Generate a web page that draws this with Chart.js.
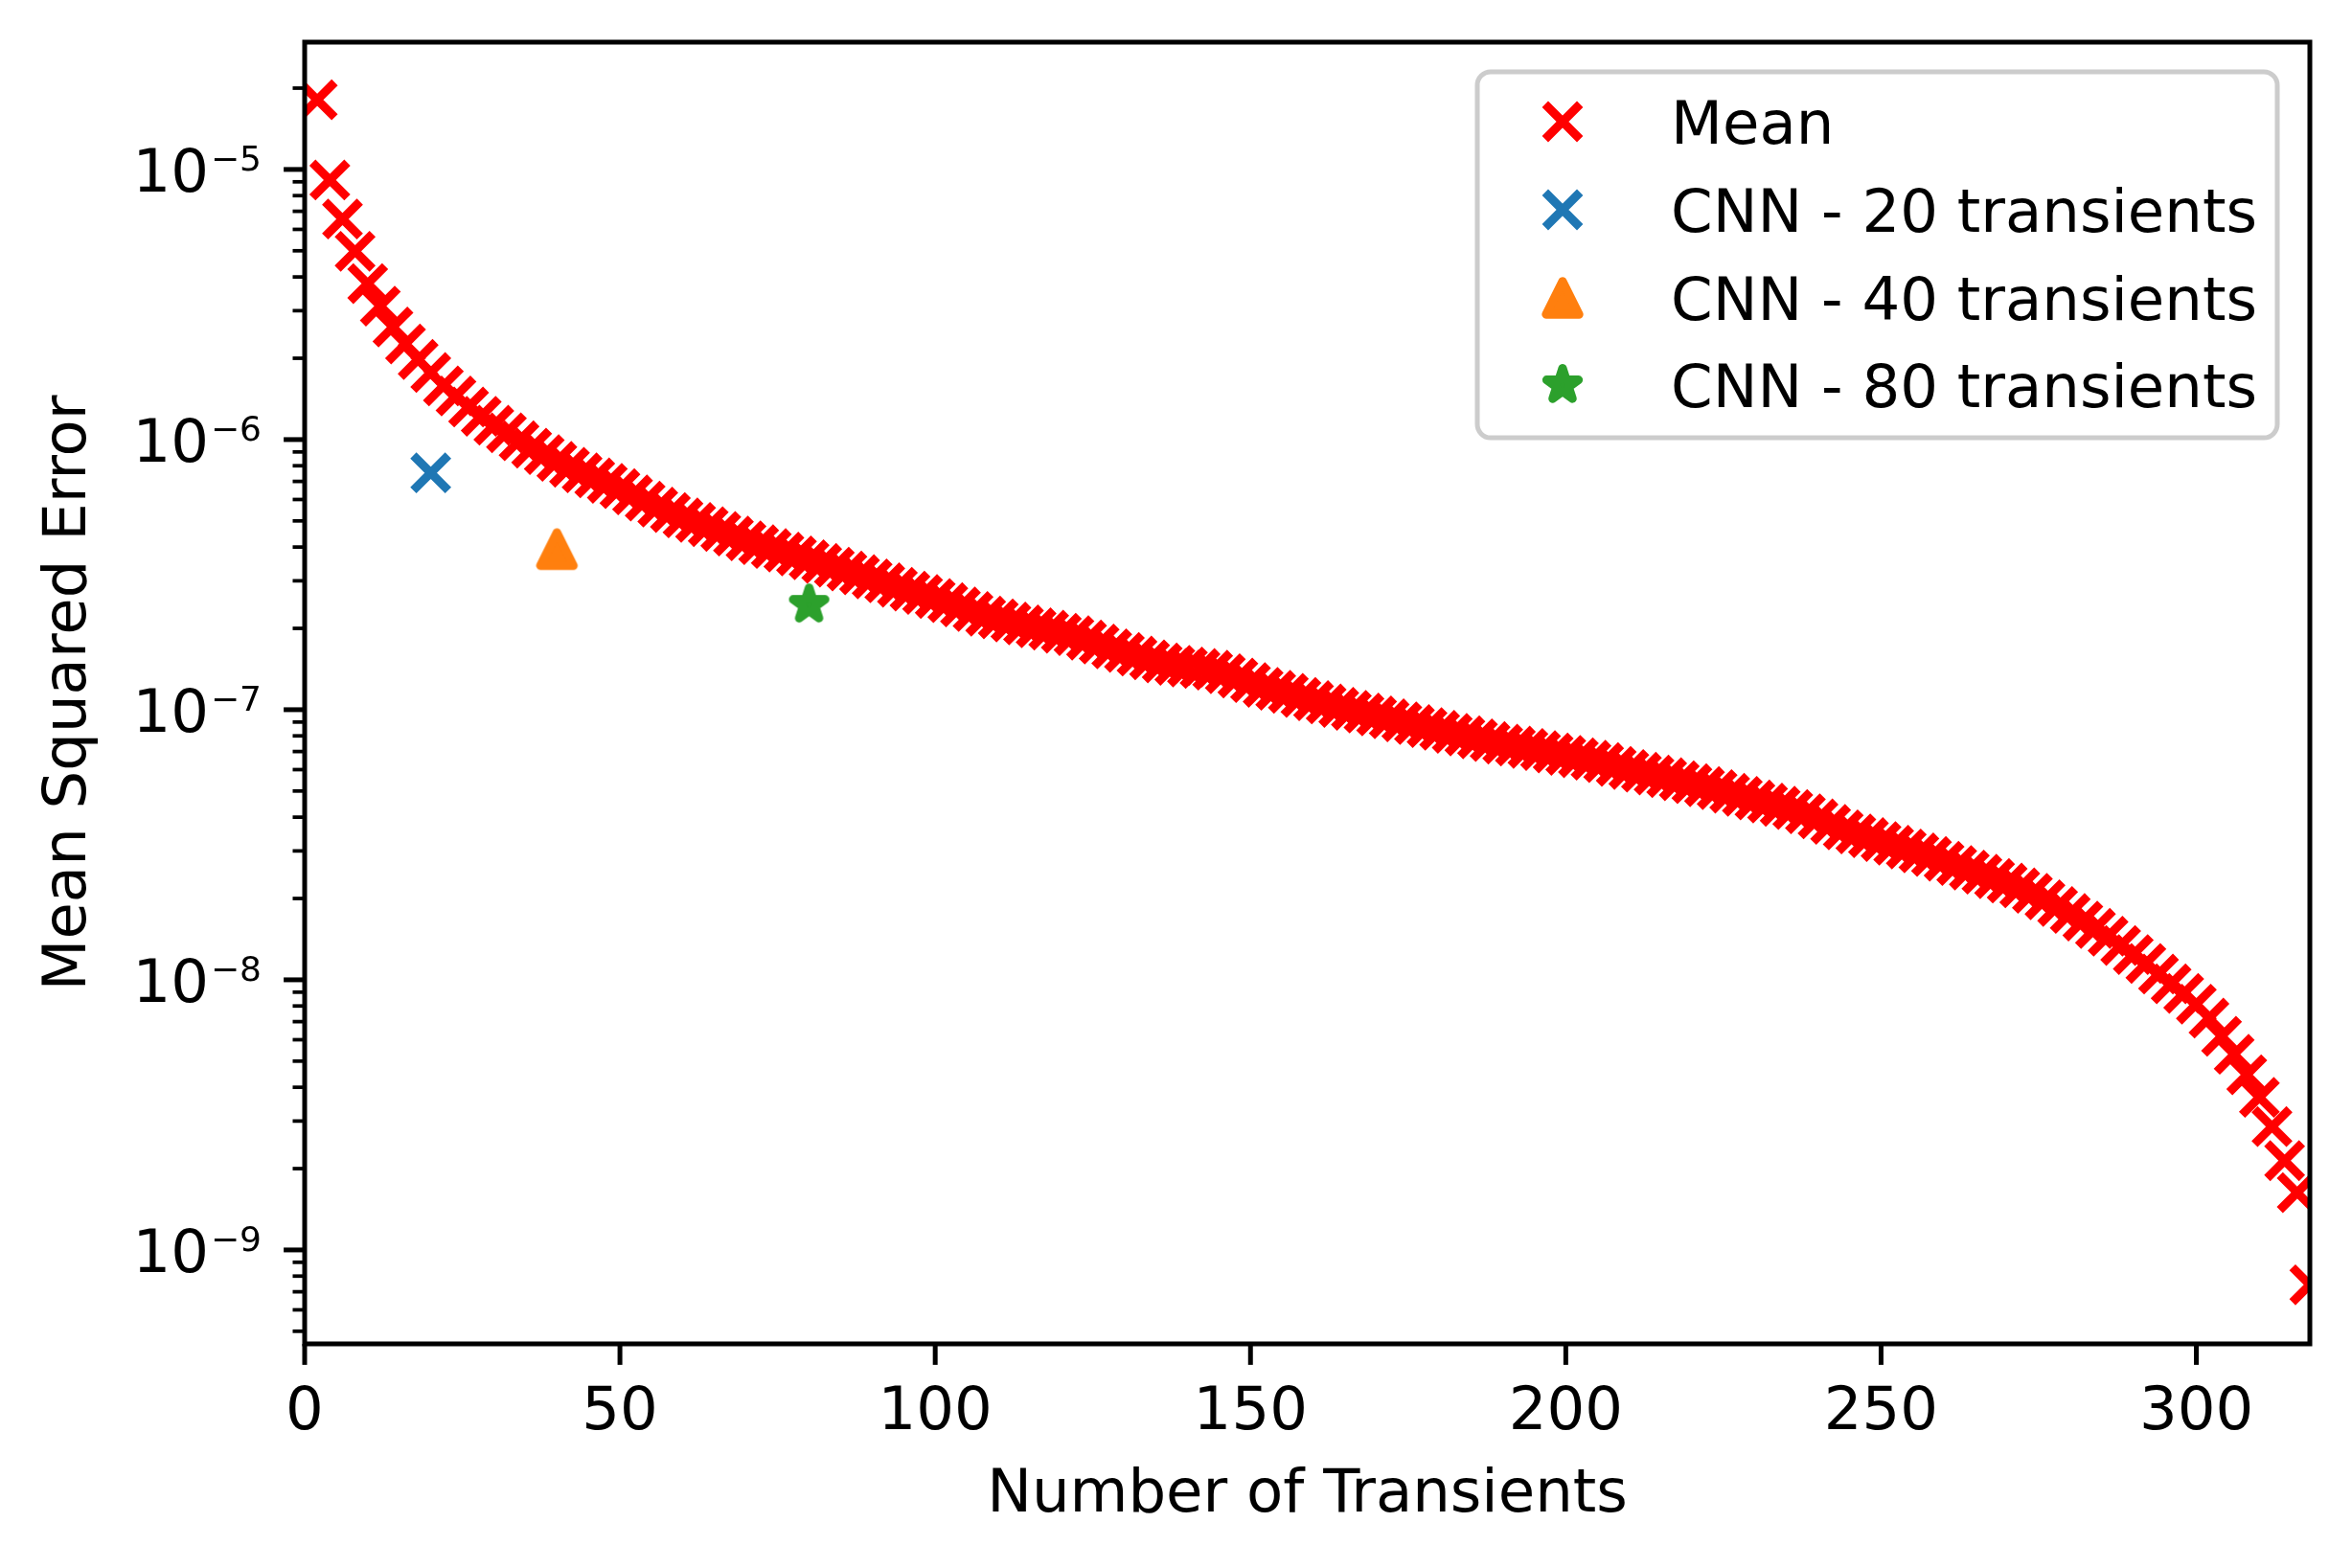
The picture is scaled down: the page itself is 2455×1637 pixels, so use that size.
<!DOCTYPE html>
<html><head><meta charset="utf-8">
<script src="https://cdn.jsdelivr.net/npm/chart.js@4.4.1/dist/chart.umd.min.js"></script>
<style>html,body{margin:0;padding:0;background:#fff;}canvas{display:block;}</style>
</head><body>
<canvas id="c" width="2455" height="1637"></canvas>
<script>
// ---- data ----
const seriesLabels = ['Mean', 'CNN - 20 transients', 'CNN - 40 transients', 'CNN - 80 transients'];
const xMean = [2,4,6,8,10,12,14,16,18,20,22,24,26,28,30,32,34,36,38,40,42,44,46,48,50,52,54,56,58,60,
62,64,66,68,70,72,74,76,78,80,82,84,86,88,90,92,94,96,98,100,102,104,106,108,110,112,114,116,118,120,
122,124,126,128,130,132,134,136,138,140,142,144,146,148,150,152,154,156,158,160,162,164,166,168,170,172,174,176,178,180,
182,184,186,188,190,192,194,196,198,200,202,204,206,208,210,212,214,216,218,220,222,224,226,228,230,232,234,236,238,240,
242,244,246,248,250,252,254,256,258,260,262,264,266,268,270,272,274,276,278,280,282,284,286,288,290,292,294,296,298,300,
302,304,306,308,310,312,314,316,318];
const yMean = [1.81e-5,9.14e-6,6.55e-6,4.98e-6,3.78e-6,3.12e-6,2.61e-6,2.26e-6,1.98e-6,1.77e-6,
1.58e-6,1.45e-6,1.32e-6,1.22e-6,1.13e-6,1.06e-6,9.9e-7,9.3e-7,8.8e-7,8.3e-7,
7.9e-7,7.53e-7,7.21e-7,6.89e-7,6.58e-7,6.24e-7,5.92e-7,5.62e-7,5.37e-7,5.13e-7,
4.94e-7,4.76e-7,4.57e-7,4.39e-7,4.22e-7,4.08e-7,3.95e-7,3.83e-7,3.71e-7,3.59e-7,
3.48e-7,3.37e-7,3.26e-7,3.16e-7,3.05e-7,2.95e-7,2.84e-7,2.75e-7,2.67e-7,2.58e-7,
2.49e-7,2.40e-7,2.31e-7,2.22e-7,2.17e-7,2.11e-7,2.06e-7,2.01e-7,1.97e-7,1.92e-7,
1.88e-7,1.81e-7,1.75e-7,1.68e-7,1.63e-7,1.58e-7,1.53e-7,1.49e-7,1.46e-7,1.44e-7,
1.42e-7,1.40e-7,1.36e-7,1.31e-7,1.26e-7,1.21e-7,1.18e-7,1.15e-7,1.11e-7,1.08e-7,
1.05e-7,1.02e-7,9.95e-8,9.72e-8,9.48e-8,9.25e-8,9.02e-8,8.81e-8,8.59e-8,8.39e-8,
8.18e-8,8.00e-8,7.80e-8,7.62e-8,7.46e-8,7.33e-8,7.19e-8,7.06e-8,6.92e-8,6.78e-8,
6.64e-8,6.50e-8,6.37e-8,6.17e-8,6.01e-8,5.87e-8,5.73e-8,5.60e-8,5.46e-8,5.32e-8,
5.19e-8,5.06e-8,4.91e-8,4.78e-8,4.63e-8,4.51e-8,4.39e-8,4.27e-8,4.12e-8,3.94e-8,
3.76e-8,3.59e-8,3.47e-8,3.36e-8,3.25e-8,3.15e-8,3.05e-8,2.95e-8,2.86e-8,2.75e-8,
2.65e-8,2.55e-8,2.46e-8,2.37e-8,2.28e-8,2.19e-8,2.09e-8,1.98e-8,1.87e-8,1.76e-8,
1.65e-8,1.55e-8,1.45e-8,1.34e-8,1.24e-8,1.15e-8,1.05e-8,9.66e-9,8.91e-9,8.13e-9,
7.21e-9,6.18e-9,5.30e-9,4.45e-9,3.67e-9,2.86e-9,2.14e-9,1.63e-9,7.43e-10];
const cnn20X = [20], cnn20Y = [7.53e-7];
const cnn40X = [40], cnn40Y = [3.93e-7];
const cnn80X = [80], cnn80Y = [2.45e-7];
const xTickValues = [0, 50, 100, 150, 200, 250, 300];
const xTickLabels = ['0', '50', '100', '150', '200', '250', '300'];
const yTickExponents = [-9, -8, -7, -6, -5];
const yTickBase = '10';
const yTickExpLabels = ['\u22129', '\u22128', '\u22127', '\u22126', '\u22125'];
const xMin = 0, xMax = 318, yMin = 4.49e-10, yMax = 2.96e-5;

// ---- styling ----
const FONT = '"DejaVu Sans", sans-serif';
const FS = 62.5;
const FS_SUP = 36;
const MS = 18.2;      // half marker size (px)
const LW = 9;         // marker line width
const TL = 21.9, TLm = 12.5, TW = 5, TWm = 3.75;
const COLORS = ['#ff0000', '#1f77b4', '#ff7f0e', '#2ca02c'];

function makeMarker(kind, color) {
  const c = document.createElement('canvas');
  c.width = 64; c.height = 64;
  const g = c.getContext('2d');
  const cx = 32, cy = 32;
  g.fillStyle = color; g.strokeStyle = color; g.lineWidth = LW; g.lineJoin = 'round';
  g.beginPath();
  if (kind === 'tri') {
    const s = 17.2;
    g.moveTo(cx, cy - s); g.lineTo(cx - s, cy + s); g.lineTo(cx + s, cy + s);
  } else {
    for (let i = 0; i < 10; i++) {
      const th = Math.PI / 2 + i * Math.PI / 5;
      const r = (i % 2 === 0) ? 17.5 : 17.5 * 0.381966;
      const px = cx + r * Math.cos(th), py = cy - r * Math.sin(th);
      if (i === 0) g.moveTo(px, py); else g.lineTo(px, py);
    }
  }
  g.closePath(); g.fill(); g.stroke();
  return c;
}
const triImg = makeMarker('tri', COLORS[2]);
const starImg = makeMarker('star', COLORS[3]);

const pts = (xs, ys) => xs.map((x, i) => ({x: x, y: ys[i]}));

Chart.defaults.font.family = FONT;
Chart.defaults.color = '#000';

const framePlugin = {
  id: 'frameAndLegend',
  afterDraw(chart) {
    const ctx = chart.ctx, a = chart.chartArea;
    const xs = chart.scales.x, ys = chart.scales.y;
    ctx.save();
    ctx.strokeStyle = '#000'; ctx.lineCap = 'butt';
    ctx.lineWidth = TW;
    xs.ticks.forEach(t => {
      const px = xs.getPixelForValue(t.value);
      ctx.beginPath(); ctx.moveTo(px, a.bottom); ctx.lineTo(px, a.bottom + TL); ctx.stroke();
    });
    ys.ticks.forEach(t => {
      const py = ys.getPixelForValue(t.value);
      const len = t.major ? TL : TLm;
      ctx.lineWidth = t.major ? TW : TWm;
      ctx.beginPath(); ctx.moveTo(a.left - len, py); ctx.lineTo(a.left, py); ctx.stroke();
    });
    // y tick labels: 10 with superscript exponent
    ctx.fillStyle = '#000';
    ctx.textBaseline = 'alphabetic'; ctx.textAlign = 'right';
    ys.ticks.forEach(t => {
      if (!t.major) return;
      const k = yTickExponents.indexOf(t.exp);
      if (k < 0) return;
      const py = ys.getPixelForValue(t.value);
      const xr = a.left - 45;
      ctx.font = FS_SUP + 'px ' + FONT;
      const ew = ctx.measureText(yTickExpLabels[k]).width;
      ctx.fillText(yTickExpLabels[k], xr, py + 1);
      ctx.font = FS + 'px ' + FONT;
      ctx.fillText(yTickBase, xr - ew - 2, py + 23);
    });
    ctx.lineWidth = TW; ctx.lineJoin = 'miter';
    ctx.strokeRect(a.left, a.top, a.right - a.left, a.bottom - a.top);

    // legend box
    const L = 1542, T = 75, R = 2377, B = 457, rad = 14;
    ctx.beginPath();
    ctx.moveTo(L + rad, T); ctx.lineTo(R - rad, T); ctx.arcTo(R, T, R, T + rad, rad);
    ctx.lineTo(R, B - rad); ctx.arcTo(R, B, R - rad, B, rad);
    ctx.lineTo(L + rad, B); ctx.arcTo(L, B, L, B - rad, rad);
    ctx.lineTo(L, T + rad); ctx.arcTo(L, T, L + rad, T, rad); ctx.closePath();
    ctx.fillStyle = 'rgba(255,255,255,0.8)'; ctx.fill();
    ctx.strokeStyle = '#cccccc'; ctx.lineWidth = 5; ctx.stroke();

    const rows = [127, 219, 311, 402];
    const mx = 1631, tx = 1744;
    chart.data.datasets.forEach((ds, i) => {
      const y = rows[i];
      const st = ds.pointStyle;
      if (st === 'crossRot') {
        ctx.strokeStyle = ds.borderColor; ctx.lineWidth = LW; ctx.lineCap = 'butt';
        ctx.beginPath();
        ctx.moveTo(mx - MS, y - MS); ctx.lineTo(mx + MS, y + MS);
        ctx.moveTo(mx + MS, y - MS); ctx.lineTo(mx - MS, y + MS);
        ctx.stroke();
      } else {
        ctx.drawImage(st, mx - st.width / 2, y - st.height / 2);
      }
      ctx.fillStyle = '#000';
      ctx.font = FS + 'px ' + FONT;
      ctx.textBaseline = 'alphabetic'; ctx.textAlign = 'left';
      ctx.fillText(ds.label, tx, y + 23);
    });
    ctx.restore();
  }
};

const zeroPad = s => { s.paddingLeft = 0; s.paddingRight = 0; s.paddingTop = 0; s.paddingBottom = 0; };

new Chart(document.getElementById('c'), {
  type: 'scatter',
  data: {
    datasets: [
      {label: seriesLabels[0], data: pts(xMean, yMean), pointStyle: 'crossRot', pointRadius: MS / Math.SQRT1_2, pointHoverRadius: MS / Math.SQRT1_2,
       pointBorderWidth: LW, borderColor: COLORS[0], backgroundColor: COLORS[0], order: 1, clip: 0},
      {label: seriesLabels[1], data: pts(cnn20X, cnn20Y), pointStyle: 'crossRot', pointRadius: MS / Math.SQRT1_2, pointHoverRadius: MS / Math.SQRT1_2,
       pointBorderWidth: LW, borderColor: COLORS[1], backgroundColor: COLORS[1], order: 0, clip: 0},
      {label: seriesLabels[2], data: pts(cnn40X, cnn40Y), pointStyle: triImg, pointRadius: 20, pointHoverRadius: 20,
       borderColor: COLORS[2], backgroundColor: COLORS[2], order: 0, clip: 0},
      {label: seriesLabels[3], data: pts(cnn80X, cnn80Y), pointStyle: starImg, pointRadius: 20, pointHoverRadius: 20,
       borderColor: COLORS[3], backgroundColor: COLORS[3], order: 0, clip: 0}
    ]
  },
  options: {
    responsive: false,
    animation: false,
    events: [],
    devicePixelRatio: 1,
    layout: {padding: {left: 0, right: 44, top: 44, bottom: 0}},
    plugins: {legend: {display: false}, tooltip: {enabled: false}},
    scales: {
      x: {
        type: 'linear', min: xMin, max: xMax,
        afterBuildTicks: s => { s.ticks = xTickValues.map(v => ({value: v, major: true})); },
        afterFit: s => { s.height = 234; zeroPad(s); },
        ticks: {font: {size: FS}, padding: 13, autoSkip: false, maxRotation: 0,
                callback: (v) => { const k = xTickValues.indexOf(v); return k >= 0 ? xTickLabels[k] : ''; }},
        grid: {display: true, drawOnChartArea: false, drawTicks: true, tickLength: TL, color: 'rgba(0,0,0,0)'},
        border: {display: false},
        title: {display: true, text: 'Number of Transients', font: {size: FS}, color: '#000', padding: {top: 0, bottom: 38}}
      },
      y: {
        type: 'logarithmic', min: yMin, max: yMax,
        afterBuildTicks: s => {
          const t = [];
          for (let e = -10; e <= -5; e++) {
            for (let m = 1; m <= 9; m++) {
              const v = m * Math.pow(10, e);
              if (v >= yMin && v <= yMax) t.push({value: v, major: m === 1, exp: e});
            }
          }
          s.ticks = t;
        },
        afterFit: s => { s.width = 318; zeroPad(s); },
        ticks: {display: true, font: {size: FS}, padding: 24, autoSkip: false, callback: () => ''},
        grid: {display: true, drawOnChartArea: false, drawTicks: true, tickLength: TL, color: 'rgba(0,0,0,0)'},
        border: {display: false},
        title: {display: true, text: 'Mean Squared Error', font: {size: FS}, color: '#000', padding: {top: 35, bottom: 0}}
      }
    }
  },
  plugins: [framePlugin]
});
</script>
</body></html>
